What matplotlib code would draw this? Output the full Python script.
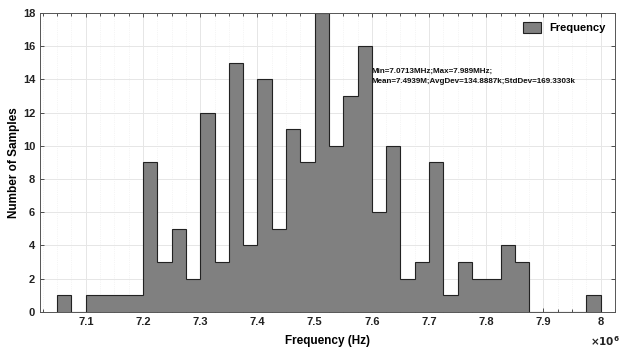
import numpy as np
import matplotlib
matplotlib.use("Agg")
import matplotlib.pyplot as plt
from matplotlib.ticker import MultipleLocator

plt.rcParams['font.family'] = ['Liberation Sans', 'DejaVu Sans']
plt.rcParams['font.weight'] = 'bold'

# bin edges of the histogram (x10^6 Hz) and counts per bin
bin_start = 7.05
bin_width = 0.025
counts = [1, 0, 1, 1, 1, 1, 9, 3, 5, 2, 12, 3, 15, 4, 14, 5, 11, 9, 18, 10,
          13, 16, 6, 10, 2, 3, 9, 1, 3, 2, 2, 4, 3, 0, 0, 0, 0, 1]
xticks = [7.1, 7.2, 7.3, 7.4, 7.5, 7.6, 7.7, 7.8, 7.9, 8.0]
xticklabels = ["7.1", "7.2", "7.3", "7.4", "7.5", "7.6", "7.7", "7.8", "7.9", "8"]
stats_text = "Min=7.0713MHz;Max=7.989MHz;\nMean=7.4939M;AvgDev=134.8887k;StdDev=169.3303k"

edges = bin_start + bin_width * np.arange(len(counts) + 1)

fig = plt.figure(figsize=(6.25, 3.52), dpi=100)
ax = fig.add_axes([0.064, 0.114, 0.92, 0.849])

ax.stairs(counts, edges, fill=True, facecolor="#808080", edgecolor="#222222",
          linewidth=0.8, label="Frequency")

ax.set_xlim(7.02, 8.025)
ax.set_ylim(0, 18)
ax.set_xticks(xticks)
ax.set_xticklabels(xticklabels)
ax.set_yticks(np.arange(0, 19, 2))
ax.xaxis.set_minor_locator(MultipleLocator(0.025))

ax.grid(True, which="major", color="#e6e6e6", linewidth=0.7)
ax.grid(True, which="minor", axis="x", color="#ececec", linewidth=0.5, linestyle=":")
ax.set_axisbelow(True)

ax.tick_params(which="both", direction="in", top=True, right=True,
               labelsize=8, colors="#333333", length=3, width=0.6)
ax.tick_params(which="minor", length=2)
for lab in ax.get_xticklabels() + ax.get_yticklabels():
    lab.set_color("#222222")
    lab.set_fontweight("bold")
for sp in ax.spines.values():
    sp.set_color("#555555")
    sp.set_linewidth(0.7)

ax.set_xlabel("Frequency (Hz)", fontsize=8.5, fontweight="bold", labelpad=6)
ax.set_ylabel("Number of Samples", fontsize=8.5, fontweight="bold", labelpad=2)

ax.text(7.6, 14.2, stats_text, fontsize=5.8, fontweight="bold", va="center",
        linespacing=1.7, color="#111111")

ax.text(0.982, -0.075, r"$\times10^6$", transform=ax.transAxes, fontsize=7.5,
        ha="center", va="top", color="#222222")

leg = ax.legend(loc="upper right", frameon=False, fontsize=8, handlelength=1.6,
                handleheight=1.2, borderaxespad=0.4)
for t in leg.get_texts():
    t.set_fontweight("bold")

fig.savefig("out.png", dpi=100)
